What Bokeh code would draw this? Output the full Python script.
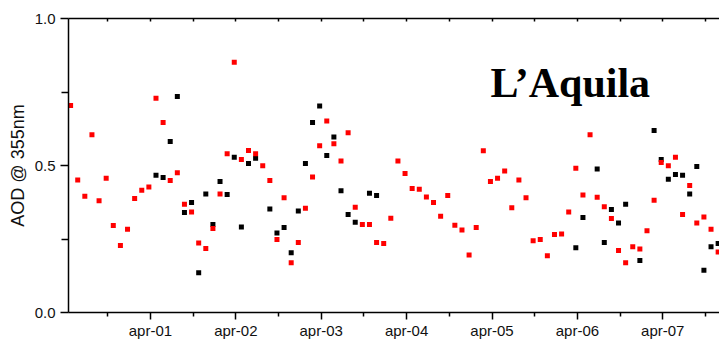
import numpy as np
from bokeh.plotting import figure
from bokeh.models import Range1d, FixedTicker, LinearAxis, Label, ColumnDataSource
from bokeh.embed import file_html
from bokeh.resources import INLINE

# Monthly AOD @ 355 nm, L'Aquila; first month = April 2000 (month index 0)
red_aod = [
    0.704, 0.451, 0.395, 0.605, 0.380, 0.457, 0.296, 0.228, 0.283, 0.388, 0.416, 0.427,   # apr-00 .. mar-01
    0.729, 0.646, 0.449, 0.475, 0.368, 0.342, 0.236, 0.218, 0.286, 0.403, 0.540, 0.851,   # apr-01 .. mar-02
    0.520, 0.551, 0.540, 0.499, 0.449, 0.248, 0.390, 0.169, 0.238, 0.355, 0.461, 0.567,   # apr-02 .. mar-03
    0.651, 0.574, 0.515, 0.611, 0.358, 0.299, 0.299, 0.238, 0.235, 0.321, 0.515, 0.473,   # apr-03 .. mar-04
    0.422, 0.419, 0.393, 0.374, 0.327, 0.398, 0.297, 0.281, 0.196, 0.289, 0.550, 0.446,   # apr-04 .. mar-05
    0.457, 0.481, 0.356, 0.451, 0.390, 0.244, 0.248, 0.193, 0.265, 0.267, 0.342, 0.491,   # apr-05 .. mar-06
    0.400, 0.605, 0.392, 0.360, 0.320, 0.211, 0.169, 0.224, 0.216, 0.278, 0.382, 0.510,   # apr-06 .. mar-07
    0.499, 0.528, 0.333, 0.432, 0.304, 0.325, 0.283, 0.206,                               # apr-07 .. nov-07
]
N = None
black_aod = [
    N, N, N, N, N, N, N, N, N, N, N, N,
    0.467, 0.459, 0.582, 0.735, 0.340, 0.374, 0.135, 0.403, 0.299, 0.446, 0.401, 0.528,
    0.291, 0.507, 0.525, N, 0.352, 0.270, 0.289, 0.203, 0.345, 0.507, 0.646, 0.702,
    0.534, 0.597, 0.414, 0.333, 0.307, N, 0.406, 0.398, N, N, N, N,
    N, N, N, N, N, N, N, N, N, N, N, N,
    N, N, N, N, N, N, N, N, N, N, N, 0.220,
    0.323, N, 0.488, 0.238, 0.350, 0.304, 0.368, N, 0.177, N, 0.619, 0.520,
    0.453, 0.469, 0.467, 0.403, 0.497, 0.144, 0.224, 0.235,
]
tick_labels = ["apr-01", "apr-02", "apr-03", "apr-04", "apr-05", "apr-06", "apr-07"]
y_tick_labels = ["0.0", "0.5", "1.0"]

months = np.arange(len(red_aod))
x = months + 0.78  # sample placed late in its month
black = np.array([np.nan if v is None else v for v in black_aod], dtype=float)

major_x = [12 * (i + 1) for i in range(len(tick_labels))]
minor_x = [6 + 12 * i for i in range(8)]

p = figure(width=719, height=341, output_backend="svg", toolbar_location=None,
           x_range=Range1d(0.485, 91.97), y_range=Range1d(0, 1),
           min_border_left=68, min_border_right=0, min_border_top=18, min_border_bottom=28)
p.xgrid.visible = False
p.ygrid.visible = False
p.outline_line_color = None
p.background_fill_color = "white"

FONT = "Liberation Sans"

xa = p.xaxis[0]
xa.ticker = FixedTicker(ticks=major_x, minor_ticks=minor_x)
xa.major_label_overrides = {t: lab for t, lab in zip(major_x, tick_labels)}
xa.major_label_text_font = FONT
xa.major_label_text_font_size = "15px"
xa.major_label_text_color = "#111111"
xa.major_label_standoff = 2
xa.major_tick_in = 0
xa.major_tick_out = 7
xa.minor_tick_in = 0
xa.minor_tick_out = 4
xa.axis_line_width = 1.5
xa.major_tick_line_width = 1.5
xa.minor_tick_line_width = 1.5

ya = p.yaxis[0]
ya.ticker = FixedTicker(ticks=[0, 0.5, 1.0], minor_ticks=[0.25, 0.75])
ya.major_label_overrides = {0: y_tick_labels[0], 0.5: y_tick_labels[1], 1: y_tick_labels[2]}
ya.major_label_text_font = FONT
ya.major_label_text_font_size = "15px"
ya.major_label_text_color = "#111111"
ya.major_label_standoff = 5
ya.major_tick_in = 0
ya.major_tick_out = 8
ya.minor_tick_in = 0
ya.minor_tick_out = 7
ya.axis_line_width = 1.5
ya.major_tick_line_width = 1.5
ya.minor_tick_line_width = 1.5
ya.axis_label = "AOD @ 355nm"
ya.axis_label_text_font = FONT
ya.axis_label_text_font_size = "18px"
ya.axis_label_text_font_style = "normal"
ya.axis_label_text_color = "#111111"
ya.axis_label_standoff = 4

top = LinearAxis(ticker=FixedTicker(ticks=major_x, minor_ticks=minor_x),
                 major_label_overrides={t: "" for t in major_x},
                 major_label_text_font_size="1px", major_label_standoff=0,
                 major_tick_in=3, major_tick_out=0, minor_tick_in=3, minor_tick_out=0,
                 axis_line_width=1.5, major_tick_line_width=1.5, minor_tick_line_width=1.5)
p.add_layout(top, "above")

src_b = ColumnDataSource(dict(x=x, y=black))
src_r = ColumnDataSource(dict(x=x, y=np.array(red_aod, dtype=float)))
p.scatter("x", "y", source=src_b, marker="square", size=5, fill_color="black", line_color=None)
p.scatter("x", "y", source=src_r, marker="square", size=5, fill_color="#ff0000", line_color=None)

p.add_layout(Label(x=59.8, y=0.78, text="L\u2019Aquila", text_font="Liberation Serif",
                   text_font_style="bold", text_font_size="42px", text_color="black",
                   text_baseline="alphabetic"))

open("out.html", "w").write(file_html(p, INLINE))
